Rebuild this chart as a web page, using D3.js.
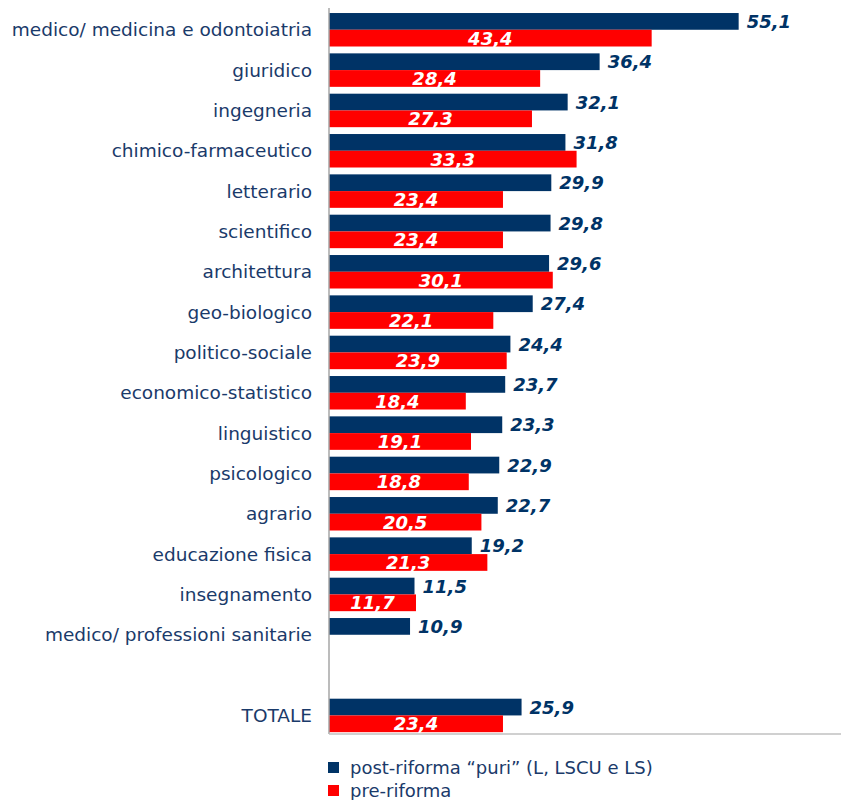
<!DOCTYPE html>
<html>
<head>
<meta charset="utf-8">
<script src="https://cdn.jsdelivr.net/npm/d3@7"></script>
<style>
  body { margin: 0; background: #fff; }
  svg { display: block; font-family: "DejaVu Sans", Verdana, sans-serif; }
</style>
</head>
<body>
<div id="chart"></div>
<script>
// categories top to bottom; "" is the empty slot before TOTALE
var categories = ["medico/ medicina e odontoiatria", "giuridico", "ingegneria",
  "chimico-farmaceutico", "letterario", "scientifico", "architettura",
  "geo-biologico", "politico-sociale", "economico-statistico", "linguistico",
  "psicologico", "agrario", "educazione fisica", "insegnamento",
  "medico/ professioni sanitarie", "", "TOTALE"];

var postRiforma = [55.1, 36.4, 32.1, 31.8, 29.9, 29.8, 29.6, 27.4, 24.4, 23.7,
  23.3, 22.9, 22.7, 19.2, 11.5, 10.9, null, 25.9];
var preRiforma = [43.4, 28.4, 27.3, 33.3, 23.4, 23.4, 30.1, 22.1, 23.9, 18.4,
  19.1, 18.8, 20.5, 21.3, 11.7, null, null, 23.4];

var seriesNames = ["post-riforma \u201cpuri\u201d (L, LSCU e LS)", "pre-riforma"];
var seriesColors = ["#003366", "#ff0000"];

var width = 841, height = 800;
var plot = { left: 329, right: 842, top: 8, bottom: 734 };

var svg = d3.select("#chart").append("svg")
    .attr("width", width)
    .attr("height", height);

var x = d3.scaleLinear()
    .domain([0, 69])
    .range([plot.left, plot.right]);

var y = d3.scaleBand()
    .domain(categories)
    .range([plot.top + 1.6, plot.bottom + 1.6])
    .paddingInner(0.17)
    .paddingOuter(0.085);

var ySub = d3.scaleBand()
    .domain([0, 1])
    .range([0, y.bandwidth()]);

var rows = categories.map(function(c, i) {
  return { cat: c, values: [postRiforma[i], preRiforma[i]] };
});

var groups = svg.append("g").selectAll("g")
    .data(rows)
    .enter().append("g")
    .attr("transform", function(d) { return "translate(0," + y(d.cat) + ")"; });

var cells = groups.selectAll("g")
    .data(function(d) {
      return d.values.map(function(v, s) { return { v: v, s: s }; })
        .filter(function(e) { return e.v != null; });
    })
    .enter().append("g");

cells.append("rect")
    .attr("x", x(0))
    .attr("y", function(d) { return ySub(d.s); })
    .attr("width", function(d) { return x(d.v) - x(0); })
    .attr("height", ySub.bandwidth())
    .attr("fill", function(d) { return seriesColors[d.s]; });

cells.append("text")
    .attr("x", function(d) { return d.s === 0 ? x(d.v) + 8 : (x(0) + x(d.v)) / 2; })
    .attr("y", function(d) { return ySub(d.s) + ySub.bandwidth() / 2; })
    .attr("dy", "0.36em")
    .attr("text-anchor", function(d) { return d.s === 0 ? "start" : "middle"; })
    .attr("fill", function(d) { return d.s === 0 ? "#003366" : "#ffffff"; })
    .style("font-size", "18px")
    .style("font-weight", "bold")
    .style("font-style", "italic")
    .text(function(d) { return d3.format(".1f")(d.v).replace(".", ","); });

// category labels
svg.append("g").selectAll("text")
    .data(categories)
    .enter().append("text")
    .attr("x", plot.left - 17)
    .attr("y", function(d) { return y(d) + y.bandwidth() / 2; })
    .attr("dy", "0.36em")
    .attr("text-anchor", "end")
    .attr("fill", "#1a3a6a")
    .style("font-size", "18.5px")
    .text(function(d) { return d; });

// axis lines
svg.append("line")
    .attr("x1", plot.left).attr("x2", plot.left)
    .attr("y1", plot.top).attr("y2", plot.bottom)
    .attr("stroke", "#a6a6a6").attr("stroke-width", 1.5);
svg.append("line")
    .attr("x1", plot.left).attr("x2", width)
    .attr("y1", plot.bottom).attr("y2", plot.bottom)
    .attr("stroke", "#c0c0c0").attr("stroke-width", 1.5);

// legend
var legend = svg.append("g").selectAll("g")
    .data(seriesNames)
    .enter().append("g")
    .attr("transform", function(d, i) { return "translate(328," + (762 + i * 23) + ")"; });

legend.append("rect")
    .attr("width", 11).attr("height", 11)
    .attr("fill", function(d, i) { return seriesColors[i]; });

legend.append("text")
    .attr("x", 22).attr("y", 5.5)
    .attr("dy", "0.36em")
    .attr("fill", "#1a3a6a")
    .style("font-size", "18px")
    .text(function(d) { return d; });
</script>
</body>
</html>
